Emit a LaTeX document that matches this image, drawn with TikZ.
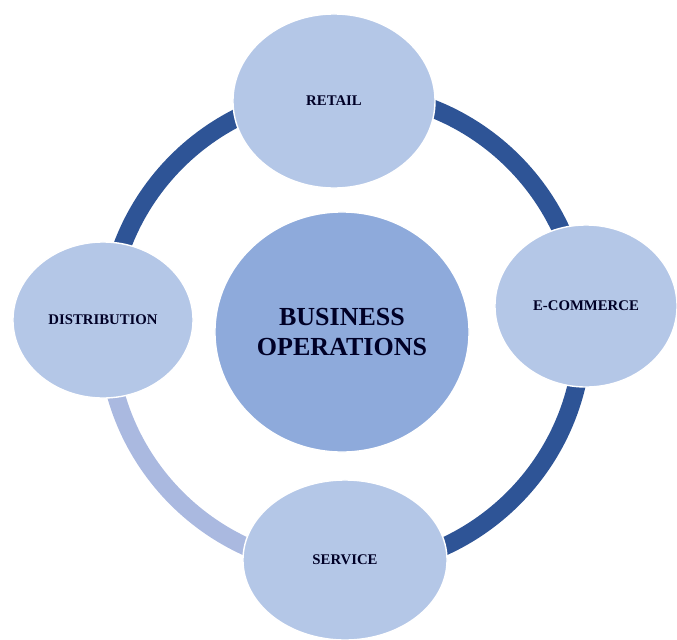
\documentclass[tikz,border=0pt]{standalone}
\usepackage{fontspec}
\setmainfont{Liberation Serif}
\usetikzlibrary{shapes.geometric,backgrounds}

\definecolor{ringdark}{HTML}{2E5496}
\definecolor{ringlight}{HTML}{AAB9E0}
\definecolor{leaffill}{HTML}{B4C7E7}
\definecolor{hubfill}{HTML}{8EAADB}

\tikzset{
  leaf/.style={ellipse, fill=leaffill, draw=white, line width=1pt, inner sep=0pt,
    font=\fontsize{10.5}{12}\selectfont\bfseries, text=black!85!blue},
  hubnode/.style={ellipse, fill=hubfill, draw=white, line width=1pt, inner sep=0pt,
    align=center, font=\fontsize{18.5}{21}\selectfont\bfseries, text=black!85!blue},
  ringseg/.style={line width=0.45cm}
}

\begin{document}
\begin{tikzpicture}[x=0.025cm,y=0.025cm]
            \useasboundingbox (0,0) rectangle (677,-639);

            \node[hubnode, minimum width=6.35cm, minimum height=6cm] (hub) at (342,-332) {BUSINESS\\OPERATIONS};

            \node[leaf, minimum width=5.05cm, minimum height=4.35cm] (retail) at (334,-101) {RETAIL};
            \node[leaf, minimum width=4.55cm, minimum height=4.05cm] (ecommerce) at (586,-306) {E-COMMERCE};
            \node[leaf, minimum width=4.5cm, minimum height=3.9cm] (distribution) at (103,-320) {DISTRIBUTION};
            \node[leaf, minimum width=5.1cm, minimum height=4cm] (service) at (345,-560) {SERVICE};

            \coordinate (ringc) at (345,-330);

            % ring behind the circles
            \begin{pgfonlayer}{background}
                \draw[ringseg, ringdark] (ringc) ++(180:5.95cm) arc[start angle=180, end angle=-90, radius=5.95cm];
                \draw[ringseg, ringlight] (ringc) ++(180:5.95cm) arc[start angle=180, end angle=270, radius=5.95cm];
            \end{pgfonlayer}
        \end{tikzpicture}
\end{document}
